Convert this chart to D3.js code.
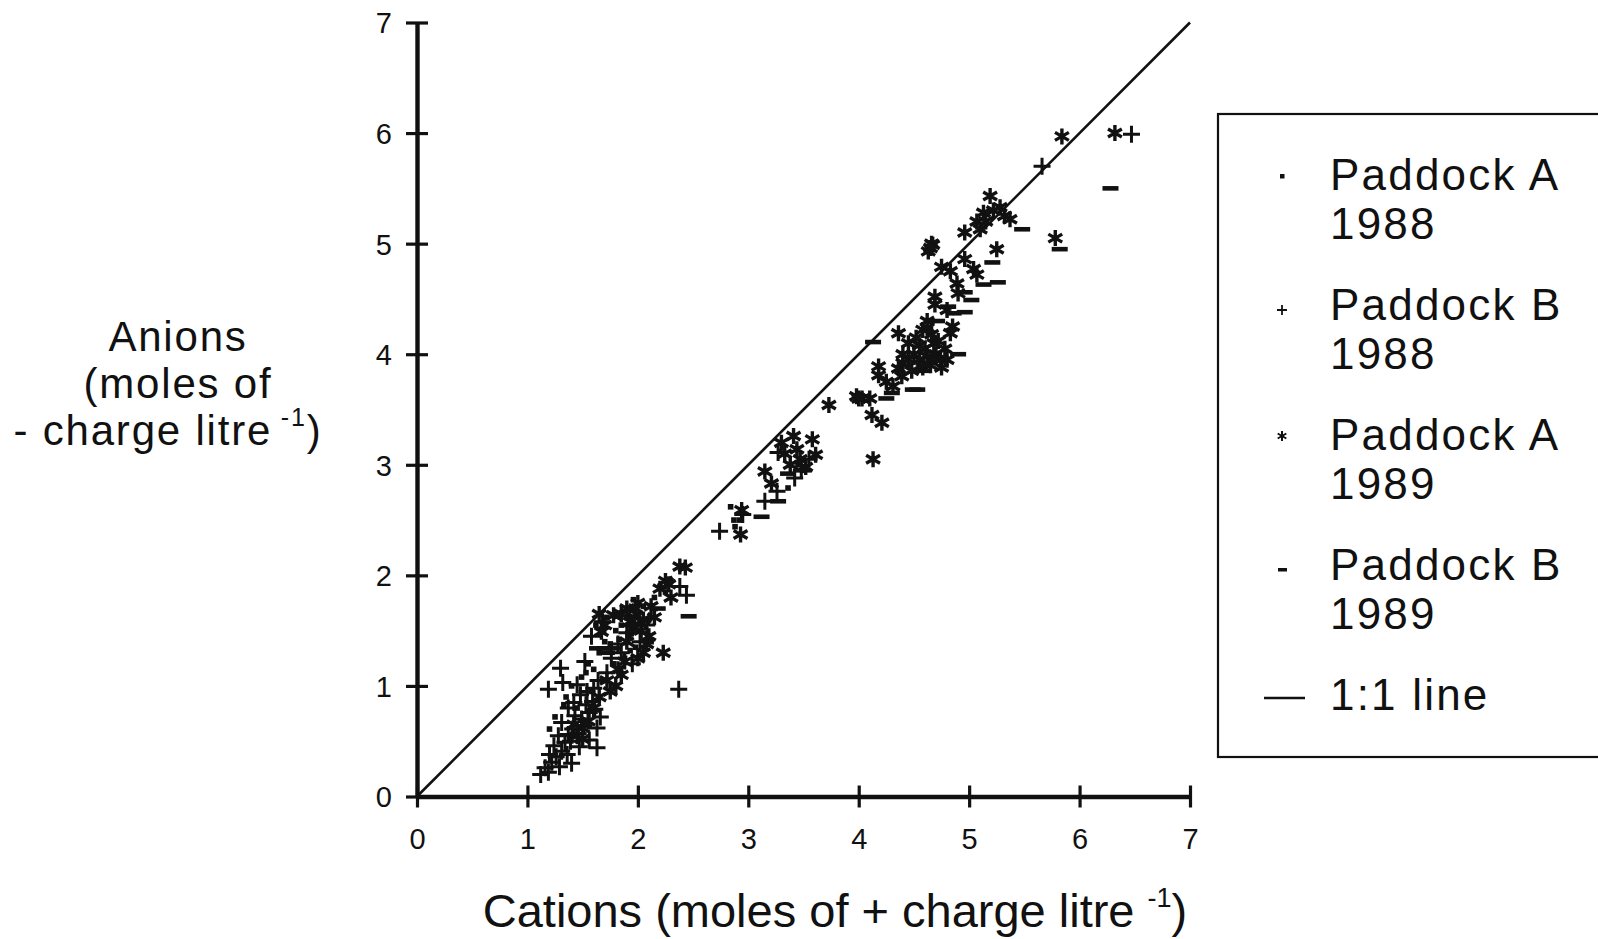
<!DOCTYPE html>
<html><head><meta charset="utf-8">
<script src="https://cdn.jsdelivr.net/npm/d3@7/dist/d3.min.js"></script>
<style>
body{margin:0;background:#fff;}
svg text{font-family:"Liberation Sans",Arial,Helvetica,sans-serif;fill:#111;}
</style></head>
<body><svg id="c" width="1598" height="939"></svg>
<script>
// ---- data (cations, anions) in moles of charge per litre ----
const tickValues = [0,1,2,3,4,5,6,7];
const legendLabels = [["Paddock A","1988"],["Paddock B","1988"],["Paddock A","1989"],["Paddock B","1989"],["1:1 line"]];
const paddockA1988 = [
 [1.20,0.61],[1.25,0.72],[1.35,0.90],[1.40,1.00],[1.49,1.08],[1.55,1.20],[1.60,1.15],[1.65,1.30],[1.70,1.40],
 [1.75,1.38],[1.80,1.50],[1.85,1.55],[1.90,1.62],[1.95,1.70],[2.00,1.65],[2.05,1.72],[2.10,1.60],[1.92,1.45],
 [1.98,1.35],[2.02,1.50],[1.88,1.25],[1.78,1.20],[1.68,1.05],[1.58,0.95],[1.45,0.80],[2.15,1.80],[2.20,1.90],
 [2.25,1.85],[2.30,1.95],[2.12,1.40],[1.72,1.62],[1.62,1.55],[2.84,2.62],[2.87,2.50],[2.92,2.50],[2.88,2.44],
 [3.36,2.79],[3.45,3.00],[3.50,2.95],[1.96,1.78],[2.04,1.58],[1.93,1.32],[1.83,1.42],[1.53,1.12],[1.33,0.83]
];
const paddockB1988 = [
 [1.12,0.20],[1.16,0.26],[1.19,0.22],[1.22,0.31],[1.26,0.36],[1.29,0.27],[1.31,0.41],[1.24,0.46],[1.34,0.49],
 [1.37,0.56],[1.41,0.61],[1.39,0.50],[1.46,0.57],[1.49,0.70],[1.43,0.73],[1.51,0.64],[1.56,0.76],[1.53,0.83],
 [1.59,0.86],[1.61,0.79],[1.63,0.44],[1.56,0.51],[1.47,0.45],[1.63,0.62],[1.31,0.67],[1.37,0.80],[1.19,0.97],
 [1.30,1.16],[1.32,1.03],[1.52,1.22],[1.45,1.01],[1.64,1.05],[1.72,1.12],[1.58,1.45],[1.68,1.58],[1.85,1.30],
 [1.95,1.20],[2.37,0.97],[2.44,1.82],[2.38,1.90],[2.74,2.40],[2.95,2.55],[3.15,2.67],[3.26,2.76],[3.27,3.11],
 [3.42,2.88],[3.48,2.95],[3.55,3.05],[5.66,5.70],[6.47,5.99],
 [1.28,0.55],[1.36,0.38],[1.42,0.85],[1.54,0.95],[1.48,0.92],[1.60,0.98],[1.40,0.30],[1.20,0.38],[1.66,0.72],
 [1.76,1.25],[1.82,1.38],[1.90,1.48],[2.02,1.40],[2.08,1.55]
];
const paddockA1989 = [
 [2.38,2.08],[2.43,2.07],[2.25,1.95],[2.20,1.88],[2.30,1.80],[2.28,1.92],[2.23,1.30],[1.67,1.49],[1.78,1.64],
 [1.65,1.65],[1.90,1.70],[2.00,1.75],[2.05,1.60],[1.95,1.52],[2.10,1.45],[2.05,1.30],[2.00,1.25],[1.90,1.40],
 [1.85,1.10],[1.75,0.95],[1.65,0.90],[1.80,1.00],[1.50,0.62],[1.45,0.55],[1.55,0.68],[1.42,0.65],[2.12,1.72],
 [1.97,1.62],[2.93,2.37],[2.94,2.59],[3.21,2.83],[3.15,2.94],[3.41,3.26],[3.58,3.23],[3.44,3.14],[3.61,3.09],
 [3.30,3.20],[3.38,3.00],[3.52,2.98],[3.73,3.54],[3.98,3.62],[4.03,3.60],[4.12,3.45],[4.21,3.38],[4.13,3.05],
 [4.00,3.60],[4.18,3.89],[4.18,3.81],[4.36,3.87],[4.39,3.80],[4.31,3.71],[4.36,4.19],[4.83,4.19],[4.62,4.30],
 [4.62,4.24],[4.69,4.52],[4.69,4.45],[4.89,4.64],[4.90,4.55],[4.75,4.79],[4.83,4.75],[4.96,4.86],[5.04,4.77],
 [5.07,4.72],[4.65,4.96],[4.67,4.99],[4.63,4.93],[4.96,5.10],[5.13,5.28],[5.07,5.20],[5.10,5.13],[5.19,5.43],
 [5.28,5.33],[5.32,5.25],[5.37,5.22],[5.25,4.95],[5.78,5.05],[5.84,5.97],[6.32,6.00],[4.45,4.10],[4.50,4.00],
 [4.55,3.95],[4.60,4.05],[4.65,3.90],[4.70,4.00],[4.75,3.88],[4.80,3.95],[4.52,4.15],[4.58,3.88],[4.68,4.10],
 [4.72,4.12],[4.40,3.92],[4.78,4.05],[4.85,4.25],[4.25,3.75],[4.10,3.60],[4.40,4.00],
 [1.98,1.70],[2.03,1.50],[2.08,1.38],[1.93,1.58],[1.88,1.22],[1.72,1.05],[1.82,1.15],[1.60,0.80],[1.50,0.52],
 [2.15,1.62],[1.70,1.55],[1.85,1.65],[4.48,3.85],[4.62,3.98],[4.74,3.95],[4.55,4.08],[4.66,4.18],[4.45,3.95],
 [5.22,5.30],[5.15,5.20],[4.66,5.00],[4.58,4.22],[4.80,4.40],[3.47,3.05],[3.33,3.10]
];
const paddockB1989 = [
 [1.63,1.34],[1.70,1.34],[1.78,1.34],[1.72,1.30],[2.46,1.63],[2.18,1.70],[1.95,1.55],[3.12,2.53],[3.27,2.67],
 [3.36,2.92],[3.50,2.95],[4.25,3.60],[4.49,3.68],[4.53,3.68],[4.74,3.97],[4.13,4.11],[4.71,4.30],[4.81,4.43],
 [4.86,4.37],[4.96,4.38],[4.96,4.56],[5.02,4.49],[5.13,4.63],[5.26,4.65],[5.21,4.83],[5.48,5.13],[5.82,4.95],
 [6.28,5.50],[4.70,3.95],[4.30,3.65],[4.90,4.00],[4.58,3.85]
];

const svg = d3.select("#c");
const x = d3.scaleLinear().domain([0,7]).range([417,1190]);
const y = d3.scaleLinear().domain([0,7]).range([796.5,22.5]);

function plusPath(s){return `M${-s},0H${s}M0,${-s}V${s}`;}
function starPath(s){
  let p="";
  for(let i=0;i<3;i++){const a=Math.PI/2+i*Math.PI/3;const dx=s*Math.cos(a),dy=s*Math.sin(a);
    p+=`M${-dx},${-dy}L${dx},${dy}`;}
  return p;
}

// 1:1 line
svg.append("line").attr("x1",x(0)).attr("y1",y(0)).attr("x2",x(7)).attr("y2",y(7))
  .attr("stroke","#111").attr("stroke-width",2.6);

// markers
const g = svg.append("g");
g.selectAll(".a88").data(paddockA1988).join("rect")
  .attr("x",d=>x(d[0])-2.8).attr("y",d=>y(d[1])-2.8).attr("width",5.6).attr("height",5.6).attr("fill","#111");
g.selectAll(".b88").data(paddockB1988).join("path")
  .attr("d",plusPath(8.5)).attr("transform",d=>`translate(${x(d[0])},${y(d[1])})`)
  .attr("stroke","#111").attr("stroke-width",3).attr("fill","none");
g.selectAll(".a89").data(paddockA1989).join("path")
  .attr("d",starPath(8)).attr("transform",d=>`translate(${x(d[0])},${y(d[1])})`)
  .attr("stroke","#111").attr("stroke-width",3.4).attr("fill","none");
g.selectAll(".b89").data(paddockB1989).join("rect")
  .attr("x",d=>x(d[0])-8).attr("y",d=>y(d[1])-2.3).attr("width",16).attr("height",4.6).attr("fill","#111");

// axes
const xAxis = svg.append("g").attr("transform",`translate(0,${y(0)})`)
  .call(d3.axisBottom(x).tickValues(tickValues).tickFormat(d3.format("d")).tickSize(11).tickSizeOuter(0));
const yAxis = svg.append("g").attr("transform",`translate(${x(0)},0)`)
  .call(d3.axisLeft(y).tickValues(tickValues).tickFormat(d3.format("d")).tickSize(11).tickSizeOuter(0));
[xAxis,yAxis].forEach(a=>{
  a.attr("font-size",29);
  a.select(".domain").attr("stroke","#111").attr("stroke-width",4.4);
  a.selectAll(".tick line").attr("stroke","#111").attr("stroke-width",3.2);
  a.selectAll(".tick text").attr("font-size",29).attr("font-family","Liberation Sans, Arial, sans-serif").attr("fill","#111");
});
xAxis.selectAll(".tick line").attr("y1",-11).attr("y2",11);
yAxis.selectAll(".tick line").attr("x1",11).attr("x2",-11);
yAxis.selectAll(".tick text").attr("x",-25).attr("dy","0.36em");
xAxis.selectAll(".tick text").attr("y",52).attr("dy",0);

// axis titles
const xt = svg.append("text").attr("x",835).attr("y",927).attr("text-anchor","middle").attr("font-size",47);
xt.append("tspan").text("Cations (moles of + charge litre ");
xt.append("tspan").attr("font-size",27).attr("dy",-20).text("-1");
xt.append("tspan").attr("dy",20).text(")");

const ylLines = ["Anions","(moles of"];
ylLines.forEach((s,i)=>{
  svg.append("text").attr("text-anchor","middle").attr("font-size",42).attr("letter-spacing",1.8)
    .attr("x",178).attr("y",351+i*47).text(s);
});
const l3 = svg.append("text").attr("text-anchor","middle").attr("font-size",42).attr("letter-spacing",1.8)
  .attr("x",168).attr("y",445);
l3.append("tspan").text("- charge litre");
l3.append("tspan").attr("font-size",25).attr("dy",-19).text(" -1");
l3.append("tspan").attr("dy",19).text(")");

// legend
svg.append("rect").attr("x",1218).attr("y",114).attr("width",420).attr("height",643)
  .attr("fill","none").attr("stroke","#111").attr("stroke-width",2.2);
const legY = [190,320,450,580,710];
const sx = 1282;
legendLabels.forEach((lab,i)=>{
  svg.append("text").attr("font-size",44).attr("letter-spacing",2.2).attr("x",1330).attr("y",legY[i]).text(lab[0]);
  if(lab[1]) svg.append("text").attr("font-size",44).attr("letter-spacing",2.2).attr("x",1330).attr("y",legY[i]+49).text(lab[1]);
});
const cy = legY.map(v=>v-14);
svg.append("rect").attr("x",sx-2).attr("y",cy[0]-2).attr("width",4.5).attr("height",4.5).attr("fill","#111");
svg.append("path").attr("d",plusPath(5)).attr("transform",`translate(${sx},${cy[1]+4})`).attr("stroke","#111").attr("stroke-width",1.8);
svg.append("path").attr("d",starPath(5)).attr("transform",`translate(${sx},${cy[2]})`).attr("stroke","#111").attr("stroke-width",2);
svg.append("rect").attr("x",sx-4).attr("y",cy[3]+2).attr("width",9).attr("height",3.5).attr("fill","#111");
svg.append("line").attr("x1",1264).attr("x2",1305).attr("y1",cy[4]+2).attr("y2",cy[4]+2).attr("stroke","#111").attr("stroke-width",2.4);
</script></body></html>
